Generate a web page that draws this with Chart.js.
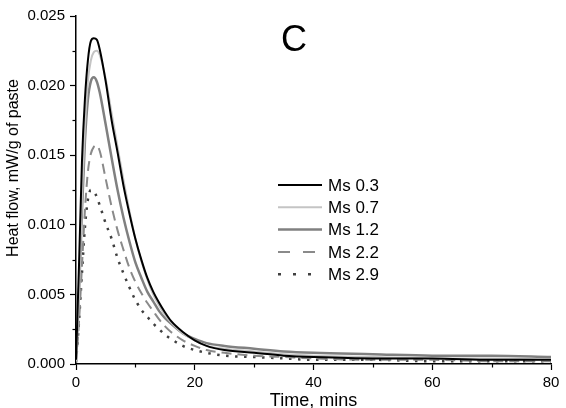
<!DOCTYPE html>
<html>
<head>
<meta charset="utf-8">
<script src="https://cdn.jsdelivr.net/npm/chart.js@4/dist/chart.umd.min.js"></script>
<style>
  html, body { margin: 0; padding: 0; background: #fff; }
  #wrap { width: 566px; height: 408px; position: relative; }
</style>
</head>
<body>
<div id="wrap"><canvas id="main-chart"></canvas></div>
<script>
//data
const times = [0, 0.5, 1, 1.5, 2, 2.5, 3, 3.5, 4, 5, 6, 7, 8, 9, 10, 11, 12, 13, 14, 15, 16, 18, 20, 22, 25, 30, 35, 40, 50, 60, 70, 80];

const ms03 = [0.0003, 0.0070, 0.0145, 0.0190, 0.0218, 0.0232, 0.0234, 0.0233, 0.0226, 0.0203, 0.0175, 0.0152, 0.0128, 0.0108, 0.0090, 0.0075, 0.0062, 0.0052, 0.0044, 0.0037, 0.0031, 0.0023, 0.0017, 0.0013, 0.0010, 0.0008, 0.0006, 0.0005, 0.0004, 0.0004, 0.0003, 0.0003];
const ms07 = [0.0002, 0.0050, 0.0120, 0.0170, 0.0203, 0.0218, 0.0224, 0.0225, 0.0222, 0.0205, 0.0180, 0.0156, 0.0132, 0.0110, 0.0090, 0.0074, 0.0061, 0.0050, 0.0042, 0.0035, 0.0030, 0.0022, 0.0017, 0.0013, 0.0011, 0.0009, 0.0007, 0.0006, 0.0005, 0.0004, 0.0004, 0.0003];
const ms12 = [0.0002, 0.0050, 0.0110, 0.0160, 0.0190, 0.0203, 0.0206, 0.0203, 0.0195, 0.0172, 0.0148, 0.0125, 0.0105, 0.0088, 0.0073, 0.0062, 0.0052, 0.0045, 0.0038, 0.0033, 0.0029, 0.0022, 0.0018, 0.0015, 0.0013, 0.0011, 0.0009, 0.0008, 0.0007, 0.0006, 0.0006, 0.0005];
const ms22 = [0.0001, 0.0030, 0.0070, 0.0110, 0.0138, 0.0151, 0.0156, 0.0157, 0.0153, 0.0133, 0.0113, 0.0096, 0.0082, 0.0069, 0.0059, 0.0051, 0.0044, 0.0038, 0.0032, 0.0027, 0.0023, 0.0017, 0.0013, 0.0010, 0.0008, 0.0006, 0.0005, 0.0004, 0.0003, 0.0003, 0.0002, 0.0002];
const ms29 = [0.0001, 0.0030, 0.0065, 0.0098, 0.0118, 0.0125, 0.0124, 0.0120, 0.0114, 0.0101, 0.0090, 0.0076, 0.0065, 0.0055, 0.0046, 0.0039, 0.0034, 0.0029, 0.0025, 0.0021, 0.0018, 0.0013, 0.0010, 0.0008, 0.0006, 0.0005, 0.0004, 0.0003, 0.0003, 0.0002, 0.0002, 0.0002];

const seriesNames = ['Ms 0.3', 'Ms 0.7', 'Ms 1.2', 'Ms 2.2', 'Ms 2.9'];
const seriesValues = [ms03, ms07, ms12, ms22, ms29];

const xTicks = [0, 20, 40, 60, 80];
const yTicks = [0, 0.005, 0.010, 0.015, 0.020, 0.025];
const xMinorTicks = [10, 30, 50, 70];
const yMinorTicks = [0.0025, 0.0075, 0.0125, 0.0175, 0.0225];

const panelLabel = 'C';
const xTitle = 'Time, mins';
const yTitle = 'Heat flow, mW/g of paste';

const FONT = 'Arial, "Liberation Sans", sans-serif';

//line styles per series
const styles = [
  { color: '#000000', width: 2,   dash: [],      legendDash: [] },
  { color: '#c4c4c4', width: 2,   dash: [],      legendDash: [] },
  { color: '#808080', width: 2.5, dash: [],      legendDash: [] },
  { color: '#8a8a8a', width: 2,   dash: [10, 6], legendDash: [12, 13] },
  { color: '#404040', width: 2.5, dash: [2.5, 6.5], legendDash: [3, 12] }
];

//build datasets from the arrays
const datasets = seriesNames.map((name, i) => ({
  label: name,
  data: times.map((t, j) => ({ x: t, y: seriesValues[i][j] })),
  borderColor: styles[i].color,
  borderWidth: styles[i].width,
  borderDash: styles[i].dash,
  pointRadius: 0,
  fill: false,
  cubicInterpolationMode: 'monotone'
}));

//plugin: minor ticks, y title, panel letter and legend inside the plot
const extras = {
  id: 'extras',
  afterDraw(chart) {
    const ctx = chart.ctx;
    const xs = chart.scales.x, ys = chart.scales.y;
    const area = chart.chartArea;

    ctx.save();
    ctx.strokeStyle = '#000';
    ctx.lineWidth = 1.2;
    xMinorTicks.forEach(v => {
      const px = Math.round(xs.getPixelForValue(v)) + 0.5;
      ctx.beginPath();
      ctx.moveTo(px, area.bottom);
      ctx.lineTo(px, area.bottom + 3.5);
      ctx.stroke();
    });
    yMinorTicks.forEach(v => {
      const py = Math.round(ys.getPixelForValue(v)) + 0.5;
      ctx.beginPath();
      ctx.moveTo(area.left, py);
      ctx.lineTo(area.left - 3.5, py);
      ctx.stroke();
    });

    //y title (sits a bit above the middle of the axis in the original)
    ctx.fillStyle = '#000';
    ctx.save();
    ctx.translate(14, 168);
    ctx.rotate(-Math.PI / 2);
    ctx.font = '16px ' + FONT;
    ctx.textAlign = 'center';
    ctx.textBaseline = 'middle';
    ctx.fillText(yTitle, 0, 0);
    ctx.restore();

    //panel letter
    ctx.font = '36px ' + FONT;
    ctx.textAlign = 'center';
    ctx.textBaseline = 'middle';
    ctx.fillText(panelLabel, 294, 41);

    //legend
    ctx.font = '17px ' + FONT;
    ctx.textAlign = 'left';
    seriesNames.forEach((name, i) => {
      const y = 185 + i * 22.3;
      ctx.strokeStyle = styles[i].color;
      ctx.lineWidth = styles[i].width;
      ctx.setLineDash(styles[i].legendDash);
      ctx.beginPath();
      ctx.moveTo(278, y);
      ctx.lineTo(322, y);
      ctx.stroke();
      ctx.setLineDash([]);
      ctx.fillStyle = '#000';
      ctx.fillText(name, 328, y + 1);
    });
    ctx.restore();
  }
};

const chart_elem = document.getElementById('main-chart');
const main_chart = new Chart(chart_elem, {
  type: 'line',
  data: { datasets: datasets },
  plugins: [extras],
  options: {
    responsive: true,
    maintainAspectRatio: false,
    animation: false,
    layout: { padding: { top: 16, right: 15, left: 0, bottom: 0 } },
    plugins: {
      legend: { display: false },
      tooltip: { enabled: false }
    },
    scales: {
      x: {
        type: 'linear',
        min: 0,
        max: 80,
        afterBuildTicks: (scale) => { scale.ticks = xTicks.map(v => ({ value: v })); },
        afterFit: (scale) => { scale.height = 44; },
        ticks: {
          color: '#000',
          font: { family: FONT, size: 15 },
          padding: 4,
          maxRotation: 0
        },
        grid: { drawOnChartArea: false, tickLength: 6, tickColor: '#000', tickWidth: 1.2 },
        border: { color: '#000', width: 1.5 },
        title: {
          display: true,
          text: xTitle,
          color: '#000',
          font: { family: FONT, size: 18 },
          padding: { top: 0, bottom: -4 }
        }
      },
      y: {
        min: 0,
        max: 0.025,
        afterBuildTicks: (scale) => { scale.ticks = yTicks.map(v => ({ value: v })); },
        afterFit: (scale) => { scale.width = 76; },
        ticks: {
          color: '#000',
          font: { family: FONT, size: 15 },
          padding: 5,
          callback: (v) => Number(v).toFixed(3)
        },
        grid: { drawOnChartArea: false, tickLength: 6, tickColor: '#000', tickWidth: 1.2 },
        border: { color: '#000', width: 1.5 },
        title: { display: false }
      }
    }
  }
});
</script>
</body>
</html>
